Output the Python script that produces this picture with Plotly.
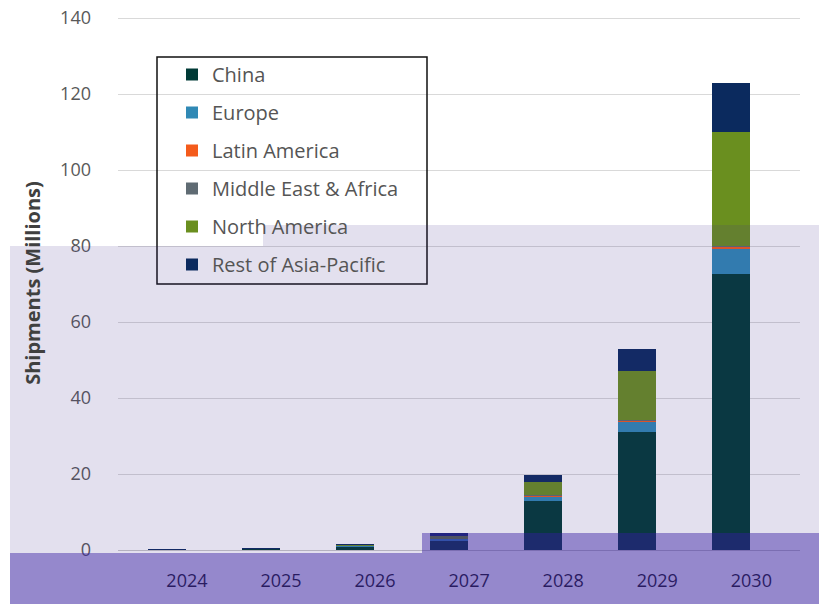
import plotly.graph_objects as go

# ---- data (millions of shipments) ----
years = ["2024", "2025", "2026", "2027", "2028", "2029", "2030"]
china = [0.10, 0.30, 1.00, 2.60, 12.9, 31.0, 72.7]
europe = [0.02, 0.05, 0.10, 0.30, 1.3, 2.9, 6.5]
latin_america = [0.00, 0.01, 0.02, 0.05, 0.1, 0.2, 0.7]
middle_east_africa = [0.00, 0.01, 0.02, 0.05, 0.1, 0.2, 0.2]
north_america = [0.05, 0.10, 0.20, 0.80, 3.5, 12.7, 30.0]
rest_of_apac = [0.02, 0.05, 0.15, 0.60, 1.8, 5.8, 12.9]
y_ticks = [0, 20, 40, 60, 80, 100, 120, 140]

series = [
    ("China", china, "#003a36"),
    ("Europe", europe, "#3089b5"),
    ("Latin America", latin_america, "#f45b1b"),
    ("Middle East & Africa", middle_east_africa, "#5f6b73"),
    ("North America", north_america, "#6a8f1f"),
    ("Rest of Asia-Pacific", rest_of_apac, "#0b2a5e"),
]

W, H = 819, 604
# plot area in page pixels (y range slightly above 140 so the top grid line shows)
SX0, SX1, SY0, SY1 = 118, 800, 16, 550
PX_PER_UNIT = (550 - 18) / 140.0
Y_MAX = (SY1 - SY0) / PX_PER_UNIT
ML, MT = SX0, SY0
MR, MB = W - SX1, H - SY1
PW, PH = SX1 - SX0, SY1 - SY0


def px_x(px):
    return (px - SX0) / PW


def px_y(py):
    return (SY1 - py) / PH


fig = go.Figure()
for name, vals, color in series:
    fig.add_trace(go.Bar(
        x=years, y=vals, name=name, legendgroup=name,
        marker=dict(color=color, line=dict(width=0)),
    ))

shapes = [
    # legend box background and border
    dict(type="rect", xref="paper", yref="paper", layer="between",
         x0=px_x(157), x1=px_x(427), y0=px_y(284), y1=px_y(57),
         fillcolor="white", line=dict(width=0)),
    dict(type="rect", xref="paper", yref="paper", layer="above",
         x0=px_x(157), x1=px_x(427), y0=px_y(284), y1=px_y(57),
         fillcolor="rgba(0,0,0,0)", line=dict(color="#111111", width=1.5)),
    # lavender tint regions
    dict(type="rect", xref="paper", yref="paper", layer="above",
         x0=px_x(10), x1=px_x(830), y0=px_y(620), y1=px_y(246),
         fillcolor="rgba(68,48,142,0.15)", line=dict(width=0)),
    dict(type="rect", xref="paper", yref="paper", layer="above",
         x0=px_x(263), x1=px_x(830), y0=px_y(246), y1=px_y(225),
         fillcolor="rgba(68,48,142,0.15)", line=dict(width=0)),
    # purple band at bottom
    dict(type="rect", xref="paper", yref="paper", layer="above",
         x0=px_x(10), x1=px_x(830), y0=px_y(620), y1=px_y(553),
         fillcolor="rgba(54,28,162,0.45)", line=dict(width=0)),
    dict(type="rect", xref="paper", yref="paper", layer="above",
         x0=px_x(422), x1=px_x(830), y0=px_y(553), y1=px_y(533),
         fillcolor="rgba(54,28,162,0.45)", line=dict(width=0)),
]

fig.update_layout(
    width=W, height=H,
    margin=dict(l=ML, r=MR, t=MT, b=MB, autoexpand=False),
    paper_bgcolor="white", plot_bgcolor="white",
    barmode="stack", bargap=0.596,
    font=dict(family="Open Sans", color="#595959"),
    showlegend=True,
    legend=dict(
        x=px_x(172), y=px_y(55), xanchor="left", yanchor="top",
        bgcolor="rgba(0,0,0,0)", borderwidth=0,
        font=dict(size=20, color="#555555", family="Open Sans"),
        traceorder="grouped", tracegroupgap=9,
    ),
    shapes=shapes,
    xaxis=dict(
        type="category", range=[-0.52, 6.73],
        showgrid=False, showline=True, linecolor="#c8c8c8", linewidth=1,
        ticks="", tickfont=dict(size=18, color="#1a1a1a"),
        ticklabelstandoff=14, ticklabelshift=20,
    ),
    yaxis=dict(
        range=[0, Y_MAX], tickvals=y_ticks,
        showgrid=True, gridcolor="#d9d9d9", gridwidth=1,
        zeroline=False, showline=False, ticks="",
        tickfont=dict(size=18, color="#595959"),
        ticklabelstandoff=26, ticklabeloverflow="allow",
        title=dict(text="<b>Shipments (Millions)</b>", standoff=14,
                   font=dict(size=20, color="#404040")),
    ),
)

fig.write_html("out.html", config={"displayModeBar": False},
               post_script="document.body.style.margin='0px';")
